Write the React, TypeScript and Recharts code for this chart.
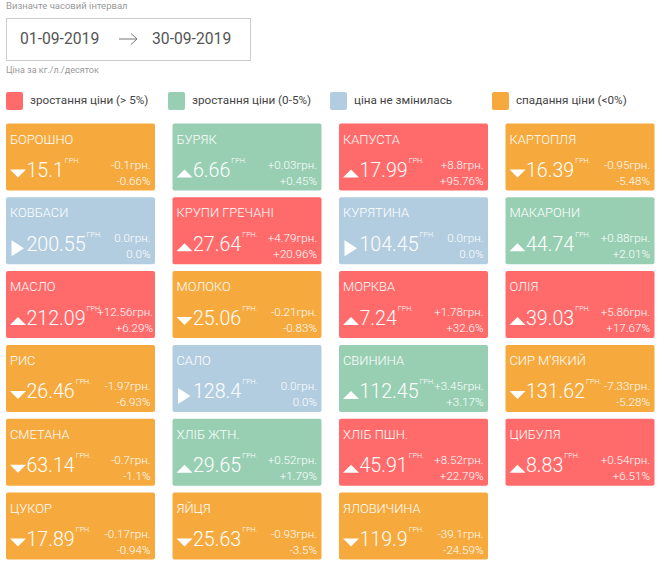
import { ScatterChart, Scatter, XAxis, YAxis, ZAxis } from "recharts";

const FONT = "Roboto, sans-serif";

const goods = [
  "БОРОШНО", "БУРЯК", "КАПУСТА", "КАРТОПЛЯ",
  "КОВБАСИ", "КРУПИ ГРЕЧАНІ", "КУРЯТИНА", "МАКАРОНИ",
  "МАСЛО", "МОЛОКО", "МОРКВА", "ОЛІЯ",
  "РИС", "САЛО", "СВИНИНА", "СИР М'ЯКИЙ",
  "СМЕТАНА", "ХЛІБ ЖТН.", "ХЛІБ ПШН.", "ЦИБУЛЯ",
  "ЦУКОР", "ЯЙЦЯ", "ЯЛОВИЧИНА",
];
const prices = [
  "15.1", "6.66", "17.99", "16.39",
  "200.55", "27.64", "104.45", "44.74",
  "212.09", "25.06", "7.24", "39.03",
  "26.46", "128.4", "112.45", "131.62",
  "63.14", "29.65", "45.91", "8.83",
  "17.89", "25.63", "119.9",
];
const deltas = [
  "-0.1", "+0.03", "+8.8", "-0.95",
  "0.0", "+4.79", "0.0", "+0.88",
  "+12.56", "-0.21", "+1.78", "+5.86",
  "-1.97", "0.0", "+3.45", "-7.33",
  "-0.7", "+0.52", "+8.52", "+0.54",
  "-0.17", "-0.93", "-39.1",
];
const percents = [
  "-0.66", "+0.45", "+95.76", "-5.48",
  "0.0", "+20.96", "0.0", "+2.01",
  "+6.29", "-0.83", "+32.6", "+17.67",
  "-6.93", "0.0", "+3.17", "-5.28",
  "-1.1", "+1.79", "+22.79", "+6.51",
  "-0.94", "-3.5", "-24.59",
];

const RED = "#ff6b6b";
const GREEN = "#98cfb3";
const BLUE = "#b3cde0";
const ORANGE = "#f6aa3d";

const legendItems = [
  { label: "зростання ціни (> 5%)", color: RED, x: 6 },
  { label: "зростання ціни (0-5%)", color: GREEN, x: 168 },
  { label: "ціна не змінилась", color: BLUE, x: 330 },
  { label: "спадання ціни (<0%)", color: ORANGE, x: 492 },
];

function cardColor(pct: number) {
  if (pct === 0) return BLUE;
  if (pct < 0) return ORANGE;
  return pct > 5 ? RED : GREEN;
}

const cards = goods.map((name, i) => ({
  col: i % 4,
  row: Math.floor(i / 4),
  name,
  price: prices[i],
  delta: deltas[i],
  percent: percents[i],
}));

function Card(props: any) {
  const { cx, cy, payload } = props;
  const pct = Number(payload.percent);
  const x = cx - 74.5;
  const y = cy - 33.5;
  // a long price next to a long delta pushes the right column outward
  const right = payload.price.length >= 6 && payload.delta.length >= 6 ? x + 147 : x + 144.5;
  const tri =
    pct === 0
      ? `M${x + 5.5},${y + 43} L${x + 18},${y + 51} L${x + 5.5},${y + 59} Z`
      : pct > 0
      ? `M${x + 4},${y + 54} L${x + 12},${y + 46} L${x + 20},${y + 54} Z`
      : `M${x + 4},${y + 46} L${x + 20},${y + 46} L${x + 12},${y + 54} Z`;
  return (
    <g fontFamily={FONT} fill="#fff">
      <rect x={x} y={y} width={149} height={67} rx={2} fill={cardColor(pct)} />
      <text x={x + 4} y={y + 20} fontSize={12.9} fontWeight={300}>{payload.name}</text>
      <path d={tri} />
      <text x={x + 20.5} y={y + 53.5} fontSize={19.6} fontWeight={300}>
        {payload.price}
        <tspan dx={1} dy={-14} fontSize={7.2}>ГРН.</tspan>
      </text>
      <text x={right} y={y + 45} fontSize={11.6} fontWeight={300} textAnchor="end">{payload.delta}грн.</text>
      <text x={right} y={y + 61} fontSize={11.6} fontWeight={300} textAnchor="end">{payload.percent}%</text>
    </g>
  );
}

export default function App() {
  return (
    <div style={{ position: "absolute", left: 0, top: 0, width: 665, height: 565, background: "#fff", fontFamily: FONT, overflow: "hidden" }}>
      <div style={{ position: "absolute", left: 6, top: 0, fontSize: 9.5, lineHeight: "11px", color: "#999" }}>Визначте часовий інтервал</div>
      <div style={{ position: "absolute", left: 6, top: 18, width: 243, height: 41, border: "1px solid #ccc" }} />
      <div style={{ position: "absolute", left: 20, top: 30, fontSize: 15.7, lineHeight: "18px", color: "#555" }}>01-09-2019</div>
      <svg style={{ position: "absolute", left: 118, top: 32 }} width={22} height={14}>
        <path d="M1,7 H19 M13,1.5 L19,7 L13,12.5" fill="none" stroke="#777" strokeWidth={1} />
      </svg>
      <div style={{ position: "absolute", left: 152, top: 30, fontSize: 15.7, lineHeight: "18px", color: "#555" }}>30-09-2019</div>
      <div style={{ position: "absolute", left: 6, top: 64, fontSize: 9, lineHeight: "12px", color: "#999" }}>Ціна за кг./л./десяток</div>
      {legendItems.map((item) => (
        <div key={item.label}>
          <div style={{ position: "absolute", left: item.x, top: 92, width: 17, height: 18, borderRadius: 2, background: item.color }} />
          <div style={{ position: "absolute", left: item.x + 24, top: 93, fontSize: 11.7, lineHeight: "15px", color: "#444", whiteSpace: "nowrap" }}>{item.label}</div>
        </div>
      ))}
      <div style={{ position: "absolute", left: 0, top: 0 }}>
        <ScatterChart width={665} height={565} margin={{ left: 80.5, right: 85, top: 157, bottom: 39 }}>
          <XAxis type="number" dataKey="col" domain={[0, 3]} hide />
          <YAxis type="number" dataKey="row" domain={[0, 5]} reversed hide />
          <ZAxis range={[10, 10]} />
          <Scatter data={cards} isAnimationActive={false} shape={Card} />
        </ScatterChart>
      </div>
    </div>
  );
}
